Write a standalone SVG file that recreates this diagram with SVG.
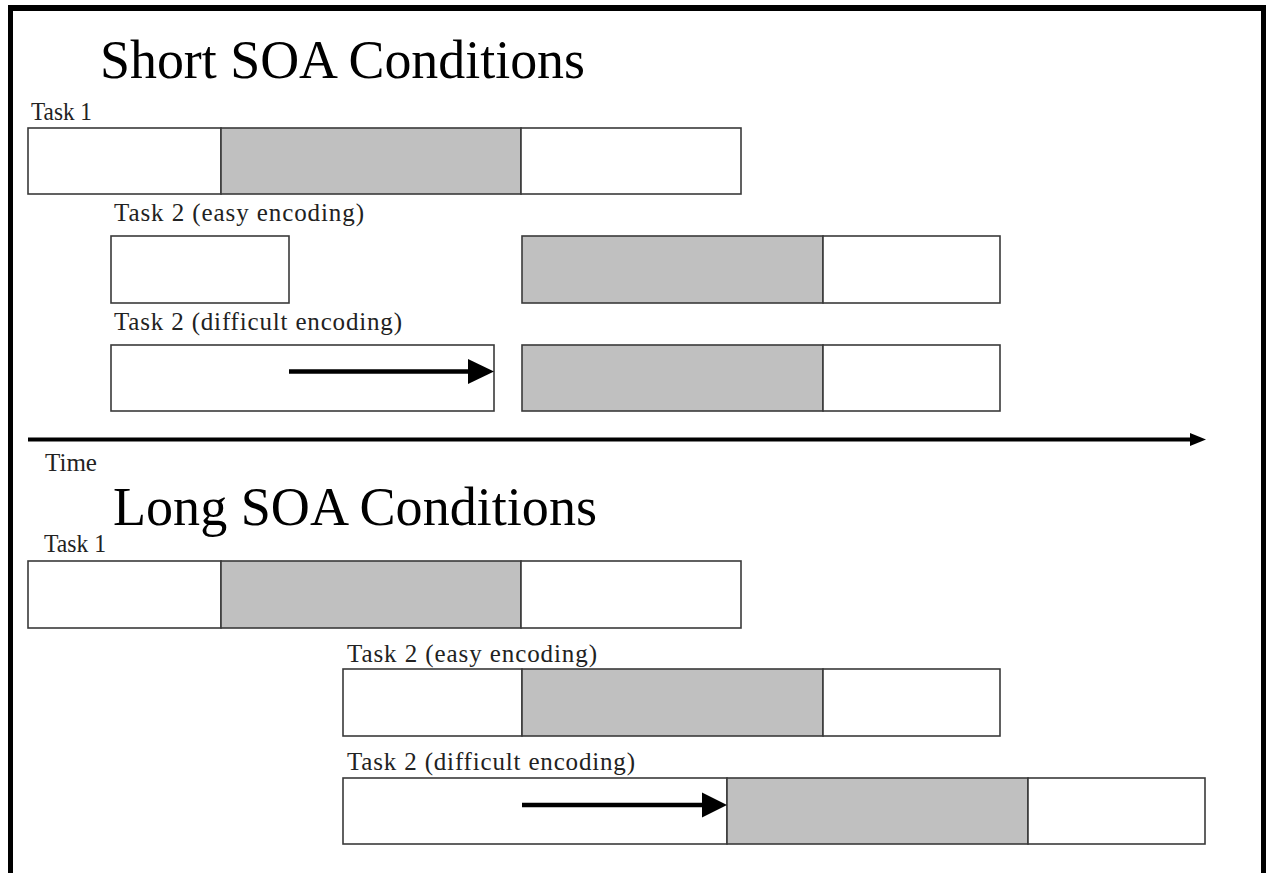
<svg xmlns="http://www.w3.org/2000/svg" width="1266" height="873" viewBox="0 0 1266 873">
<style>
.bg{fill:#ffffff}
.frame{fill:#000000}
.box{fill:#ffffff;stroke:#3a3a3a;stroke-width:1.6}
.shade{fill:#c0c0c0;stroke:#3a3a3a;stroke-width:1.6}
.title{font-family:"Liberation Serif","Times New Roman",serif;font-size:54px;fill:#000}
.lbl{font-family:"Liberation Serif","Times New Roman",serif;font-size:25px;fill:#222}
.arr{stroke:#000;stroke-width:4.5;fill:none}
.head{fill:#000}
</style>
<rect class="bg" x="0" y="0" width="1266" height="873"/>
<g id="frame">
<rect class="frame" x="8" y="5" width="1258" height="6"/>
<rect class="frame" x="8" y="5" width="5" height="868"/>
<rect class="frame" x="1261" y="5" width="5" height="868"/>
</g>
<g id="titles">
<text class="title" x="100" y="78" textLength="485" lengthAdjust="spacingAndGlyphs">Short SOA Conditions</text>
<text class="title" x="113" y="525" textLength="484" lengthAdjust="spacingAndGlyphs">Long SOA Conditions</text>
</g>
<g id="short-task1">
<text class="lbl" x="31" y="120" textLength="61" lengthAdjust="spacingAndGlyphs">Task 1</text>
<rect class="box" x="28" y="128" width="193" height="66"/>
<rect class="shade" x="221" y="128" width="300" height="66"/>
<rect class="box" x="521" y="128" width="220" height="66"/>
</g>
<g id="short-task2-easy">
<text class="lbl" x="114" y="221" textLength="250" lengthAdjust="spacing">Task 2 (easy encoding)</text>
<rect class="box" x="111" y="236" width="178" height="67"/>
<rect class="shade" x="522" y="236" width="301" height="67"/>
<rect class="box" x="823" y="236" width="177" height="67"/>
</g>
<g id="short-task2-difficult">
<text class="lbl" x="114" y="330" textLength="288" lengthAdjust="spacing">Task 2 (difficult encoding)</text>
<rect class="box" x="111" y="345" width="383" height="66"/>
<rect class="shade" x="522" y="345" width="301" height="66"/>
<rect class="box" x="823" y="345" width="177" height="66"/>
</g>
<g id="time-label">
<text class="lbl" x="45" y="471" textLength="52" lengthAdjust="spacingAndGlyphs">Time</text>
</g>
<g id="long-task1">
<text class="lbl" x="44" y="552" textLength="62" lengthAdjust="spacingAndGlyphs">Task 1</text>
<rect class="box" x="28" y="561" width="193" height="67"/>
<rect class="shade" x="221" y="561" width="300" height="67"/>
<rect class="box" x="521" y="561" width="220" height="67"/>
</g>
<g id="long-task2-easy">
<text class="lbl" x="347" y="662" textLength="250" lengthAdjust="spacing">Task 2 (easy encoding)</text>
<rect class="box" x="343" y="669" width="179" height="67"/>
<rect class="shade" x="522" y="669" width="301" height="67"/>
<rect class="box" x="823" y="669" width="177" height="67"/>
</g>
<g id="long-task2-difficult">
<text class="lbl" x="347" y="770" textLength="288" lengthAdjust="spacing">Task 2 (difficult encoding)</text>
<rect class="box" x="343" y="778" width="384" height="66"/>
<rect class="shade" x="727" y="778" width="301" height="66"/>
<rect class="box" x="1028" y="778" width="177" height="66"/>
</g>
<g id="connectors">
<line class="arr" x1="289" y1="371.5" x2="470" y2="371.5"/>
<polygon class="head" points="468,359 494,371.5 468,384"/>
<line class="arr" x1="522" y1="805" x2="704" y2="805"/>
<polygon class="head" points="702,792.5 727,805 702,817.5"/>
<line class="arr" x1="28" y1="439.5" x2="1193" y2="439.5" style="stroke-width:4"/>
<polygon class="head" points="1190,433 1206,439.5 1190,446"/>
</g>
</svg>
